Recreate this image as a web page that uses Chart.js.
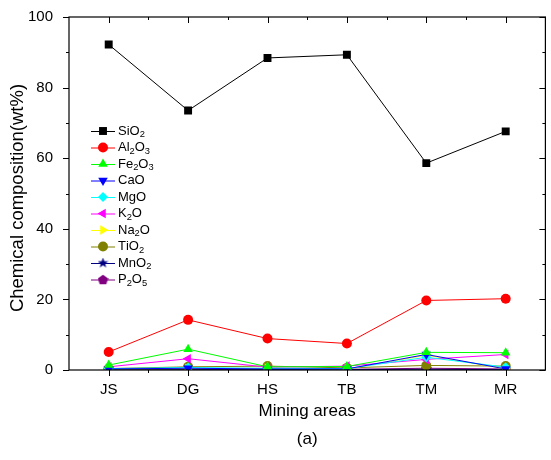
<!DOCTYPE html>
<html><head><meta charset="utf-8">
<script src="https://cdn.jsdelivr.net/npm/chart.js@4/dist/chart.umd.min.js"></script>
<style>html,body{margin:0;padding:0;background:#fff;}#c{display:block;}</style>
</head><body>
<canvas id="c" width="551" height="460"></canvas>
<script>
const categories = ['JS','DG','HS','TB','TM','MR'];
const seriesNames = ['SiO2','Al2O3','Fe2O3','CaO','MgO','K2O','Na2O','TiO2','MnO2','P2O5'];
const SiO2  = [92.2, 73.5, 88.4, 89.3, 58.6, 67.6];
const Al2O3 = [5.1, 14.2, 8.9, 7.5, 19.7, 20.2];
const Fe2O3 = [1.4, 5.9, 0.9, 1.0, 5.0, 4.9];
const CaO   = [0.3, 0.5, 0.3, 0.3, 4.4, 0.3];
const MgO   = [0.4, 0.7, 0.5, 0.4, 3.6, 0.8];
const K2O   = [0.9, 3.2, 0.8, 1.1, 3.0, 4.4];
const Na2O  = [0.3, 0.4, 0.5, 0.3, 4.2, 0.3];
const TiO2  = [0.4, 0.9, 1.1, 0.6, 1.3, 1.1];
const MnO2  = [0.1, 0.1, 0.1, 0.1, 0.2, 0.1];
const P2O5  = [0.2, 0.3, 0.3, 0.2, 0.5, 0.3];
const yTicks = [0, 20, 40, 60, 80, 100];

function shape(kind, color, size) {
  const cv = document.createElement('canvas');
  cv.width = size; cv.height = size;
  const g = cv.getContext('2d');
  const cx = size/2, cy = size/2, R = size/2;
  g.fillStyle = color; g.beginPath();
  if (kind === 'star') {
    for (let i = 0; i < 10; i++) {
      const r = i % 2 === 0 ? R : R*0.42;
      const a = -Math.PI/2 + i*Math.PI/5;
      const x = cx + r*Math.cos(a), y = cy + r*Math.sin(a);
      i ? g.lineTo(x,y) : g.moveTo(x,y);
    }
  } else {
    for (let i = 0; i < 5; i++) {
      const a = -Math.PI/2 + i*2*Math.PI/5;
      const x = cx + R*Math.cos(a), y = cy + R*0.95*Math.sin(a) + 0.5;
      i ? g.lineTo(x,y) : g.moveTo(x,y);
    }
  }
  g.closePath(); g.fill();
  return cv;
}
const starImg = shape('star', '#000080', 11);
const pentImg = shape('pent', '#800080', 11);

const styles = [
  {c:'#000000', ps:'rect', r:5.6, rot:0},
  {c:'#FF0000', ps:'circle', r:5, rot:0},
  {c:'#00FF00', ps:'triangle', r:5.5, rot:0},
  {c:'#0000FF', ps:'triangle', r:5.5, rot:180},
  {c:'#00FFFF', ps:'rectRot', r:5, rot:0},
  {c:'#FF00FF', ps:'triangle', r:5.5, rot:270},
  {c:'#FFFF00', ps:'triangle', r:5.5, rot:90},
  {c:'#808000', ps:'circle', r:5, rot:0},
  {c:'#000080', ps:starImg, r:5, rot:0},
  {c:'#800080', ps:pentImg, r:5, rot:0}
];
const values = [SiO2, Al2O3, Fe2O3, CaO, MgO, K2O, Na2O, TiO2, MnO2, P2O5];

const datasets = seriesNames.map((n, i) => ({
  label: n, data: values[i],
  borderColor: styles[i].c, backgroundColor: styles[i].c,
  borderWidth: 1, pointStyle: styles[i].ps, pointRadius: styles[i].r,
  pointRotation: styles[i].rot, pointBorderWidth: 0, pointHoverRadius: styles[i].r,
  tension: 0
}));

function drawSubText(ctx, text, x, y, size) {
  let cx = x;
  for (const ch of text) {
    if (/[0-9]/.test(ch)) {
      ctx.font = (size*0.72) + 'px "Liberation Sans", Arial, sans-serif';
      ctx.fillText(ch, cx, y + size*0.3);
    } else {
      ctx.font = size + 'px "Liberation Sans", Arial, sans-serif';
      ctx.fillText(ch, cx, y);
    }
    cx += ctx.measureText(ch).width;
  }
}

const decor = {
  id: 'decor',
  afterDraw(chart) {
    const ctx = chart.ctx, a = chart.chartArea;
    const xs = chart.scales.x, ys = chart.scales.y;
    ctx.save();
    ctx.strokeStyle = '#000'; ctx.lineWidth = 1.2;
    ctx.strokeRect(a.left, a.top, a.right - a.left, a.bottom - a.top);
    ctx.lineWidth = 1;
    ctx.beginPath();
    for (let v = 0; v <= 100; v += 10) {
      const y = Math.round(ys.getPixelForValue(v)) + 0.5;
      const L = v % 20 === 0 ? 6 : 3;
      ctx.moveTo(a.left, y); ctx.lineTo(a.left - L, y);
      ctx.moveTo(a.right, y); ctx.lineTo(a.right - L, y);
    }
    for (let i = 0; i < categories.length; i++) {
      const x = Math.round(xs.getPixelForValue(i)) + 0.5;
      ctx.moveTo(x, a.bottom); ctx.lineTo(x, a.bottom + 6);
      ctx.moveTo(x, a.top); ctx.lineTo(x, a.top + 6);
      const xm = Math.round(xs.getPixelForValue(i + 0.5)) + 0.5;
      if (i < categories.length - 1) {
        ctx.moveTo(xm, a.bottom); ctx.lineTo(xm, a.bottom + 3);
        ctx.moveTo(xm, a.top); ctx.lineTo(xm, a.top + 3);
      }
    }
    ctx.stroke();
    ctx.fillStyle = '#000';
    ctx.textAlign = 'center'; ctx.textBaseline = 'middle';
    ctx.font = '17px "Liberation Sans", Arial, sans-serif';
    ctx.fillText('Mining areas', (a.left + a.right)/2, 411);
    ctx.fillText('(a)', (a.left + a.right)/2, 439);
    ctx.save();
    ctx.font = '18.5px "Liberation Sans", Arial, sans-serif';
    ctx.translate(18, 198); ctx.rotate(-Math.PI/2);
    ctx.fillText('Chemical composition(wt%)', 0, 0);
    ctx.restore();
    ctx.textAlign = 'left'; ctx.textBaseline = 'middle';
    chart.data.datasets.forEach((d, i) => {
      const y = 131 + i * 16.5;
      ctx.strokeStyle = d.borderColor; ctx.lineWidth = 1;
      ctx.beginPath(); ctx.moveTo(91, y + 0.5); ctx.lineTo(115, y + 0.5); ctx.stroke();
      ctx.fillStyle = d.backgroundColor;
      Chart.helpers.drawPoint(ctx, {pointStyle: d.pointStyle, rotation: d.pointRotation, radius: d.pointRadius, borderWidth: 0}, 103, y);
      ctx.fillStyle = '#000';
      drawSubText(ctx, d.label, 118, y, 13);
    });
    ctx.restore();
  }
};

new Chart(document.getElementById('c'), {
  type: 'line',
  data: { labels: categories, datasets },
  options: {
    responsive: false, animation: false,
    layout: { padding: { top: 14, right: 1, left: 0, bottom: 0 } },
    plugins: { legend: { display: false }, tooltip: { enabled: false } },
    scales: {
      x: {
        offset: true,
        grid: { display: false },
        border: { display: false },
        ticks: { color: '#000', font: { size: 15, family: '"Liberation Sans", Arial, sans-serif' }, padding: 3, maxRotation: 0 },
        afterFit(s) { s.height = 90; }
      },
      y: {
        min: 0, max: 100,
        grid: { display: false },
        border: { display: false },
        afterBuildTicks(s) { s.ticks = yTicks.map(v => ({ value: v })); },
        ticks: { color: '#000', font: { size: 15, family: '"Liberation Sans", Arial, sans-serif' }, padding: 8 },
        afterFit(s) { s.width = 69; }
      }
    }
  },
  plugins: [decor]
});
</script>
</body></html>
